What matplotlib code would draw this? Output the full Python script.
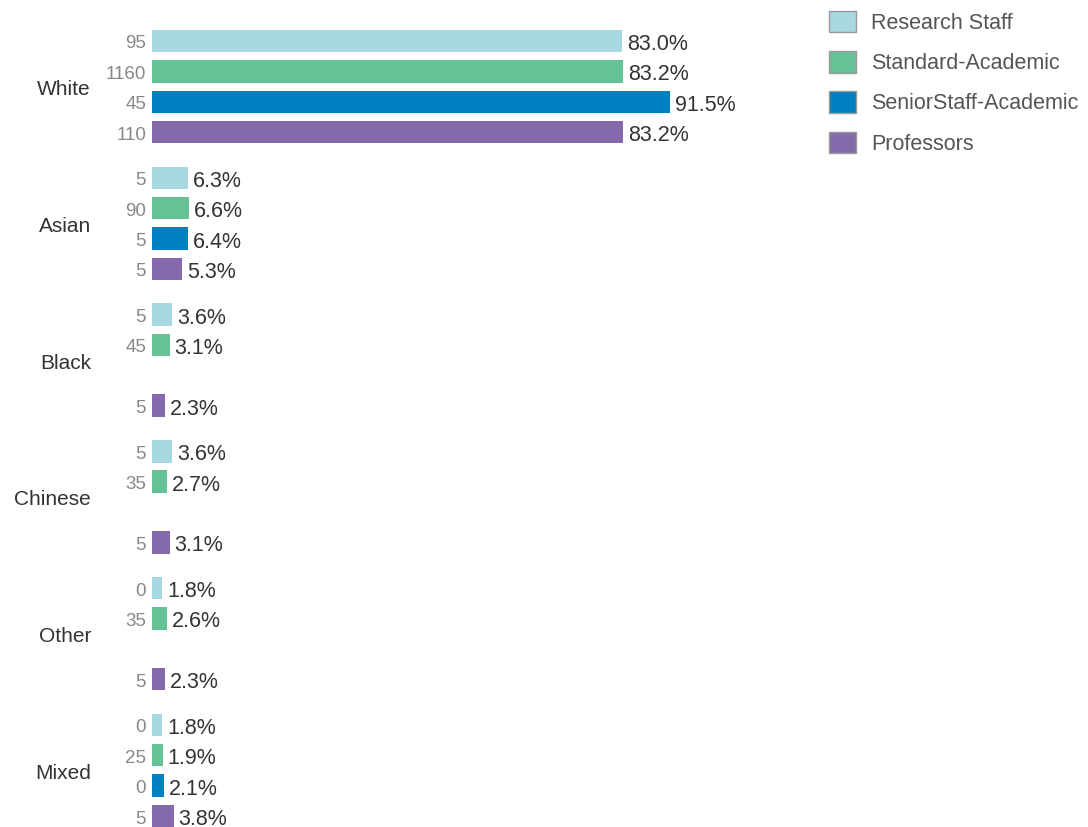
import numpy as np
import matplotlib
matplotlib.use('Agg')
import matplotlib.pyplot as plt
from matplotlib.patches import Patch

plt.rcParams['font.family'] = ['Liberation Sans', 'DejaVu Sans']

categories = ["White", "Asian", "Black", "Chinese", "Other", "Mixed"]
series = ["Research Staff", "Standard-Academic", "SeniorStaff-Academic", "Professors"]
colors = ["#a8d9e3", "#66c296", "#0080c0", "#846aab"]

# percentage per category, one list per staff group (nan = no data)
research_pct  = [83.0, 6.3, 3.6, 3.6, 1.8, 1.8]
standard_pct  = [83.2, 6.6, 3.1, 2.7, 2.6, 1.9]
senior_pct    = [91.5, 6.4, np.nan, np.nan, np.nan, 2.1]
professor_pct = [83.2, 5.3, 2.3, 3.1, 2.3, 3.8]

# head counts shown to the left of each bar
research_n  = [95, 5, 5, 5, 0, 0]
standard_n  = [1160, 90, 45, 35, 35, 25]
senior_n    = [45, 5, None, None, None, 0]
professor_n = [110, 5, 5, 5, 5, 5]

pcts = [research_pct, standard_pct, senior_pct, professor_pct]
counts = [research_n, standard_n, senior_n, professor_n]

W, H = 1088, 827
PX = 72 / 100  # points per pixel at dpi 100
fig = plt.figure(figsize=(W / 100, H / 100), dpi=100)
ax = fig.add_axes([152 / W, 0, 648 / W, 797 / H])

group_step = 4.5
for j, (vals, ns) in enumerate(zip(pcts, counts)):
    ys = np.arange(len(categories)) * group_step + j
    ax.barh(ys, vals, height=0.74, color=colors[j], edgecolor='none')
    for y, v, n in zip(ys, vals, ns):
        if np.isnan(v):
            continue
        ax.annotate(f"{v:.1f}%", (v, y), xytext=(5 * PX, -1 * PX), textcoords='offset points',
                    va='center_baseline', ha='left', fontsize=15.5, color='#333333')
        ax.annotate(str(n), (0, y), xytext=(-6 * PX, -1 * PX), textcoords='offset points',
                    va='center_baseline', ha='right', fontsize=13.5, color='#888888')

for i, c in enumerate(categories):
    ax.annotate(c, (0, i * group_step + 1.5), xycoords=('axes fraction', 'data'),
                xytext=(-61 * PX, -1 * PX), textcoords='offset points', ha='right',
                va='center_baseline', fontsize=15, color='#333333')

ax.set_xlim(0, 648 / 5.66)
ax.set_ylim(25.5 + 11 / 30.4, -11 / 30.4)
ax.axis('off')

handles = [Patch(facecolor=c, edgecolor='#999999', linewidth=1) for c in colors]
fig.legend(handles, series, loc='upper left', bbox_to_anchor=(829 / W, 1 - 11 / H),
           frameon=False, fontsize=15.5, handlelength=1.25, handleheight=1.15,
           handletextpad=0.7, labelspacing=0.8, borderaxespad=0, borderpad=0,
           labelcolor='#555555')

fig.savefig('out.png', dpi=100, facecolor='white')
